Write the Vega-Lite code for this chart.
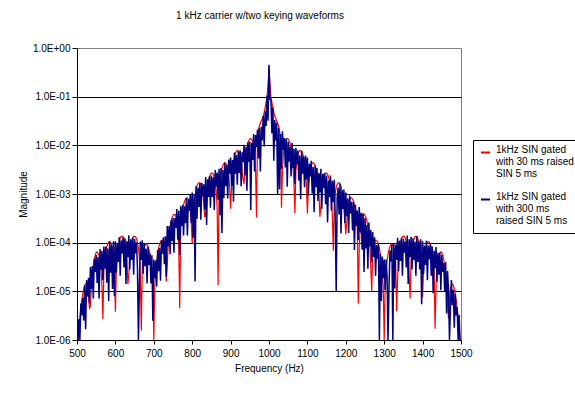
{
"$schema": "https://vega.github.io/schema/vega-lite/v6.json",
"width": 384, "height": 292,
"autosize": {"type": "none"},
"padding": {"left": 77, "top": 48, "right": 114, "bottom": 53},
"background": "white",
"title": {"text": "1 kHz carrier w/two keying waveforms", "font": "Liberation Sans", "fontSize": 10, "fontWeight": "normal", "color": "black", "anchor": "middle", "offset": 22, "dx": -9},
"config": {
 "view": {"stroke": "#808080", "strokeWidth": 1},
 "axis": {"labelFont": "Liberation Sans", "labelFontSize": 10, "labelColor": "black", "titleFont": "Liberation Sans", "titleFontSize": 10, "titleFontWeight": "normal", "titleColor": "black", "domainColor": "black", "tickColor": "black", "domainWidth": 1, "tickWidth": 1, "labelOverlap": false, "labelFlush": false},
 "legend": {"orient": "none", "legendX": 396, "legendY": 92, "direction": "vertical", "strokeColor": "black", "strokeWidth": 1, "fillColor": "white", "padding": 7, "symbolType": "stroke", "symbolStrokeWidth": 2, "symbolSize": 81, "labelFont": "Liberation Sans", "labelFontSize": 10, "labelColor": "black", "labelOffset": 5, "rowPadding": 12, "labelBaseline": "alphabetic", "labelLimit": 0}
},
"data": {"values": [
{"f":500,"r":1e-6,"b":1e-6},{"f":502.5,"r":1e-6,"b":1e-6},{"f":505,"r":1.6e-6,"b":2.7e-6},{"f":507.5,"r":2.9e-6,"b":1e-6},{"f":510,"r":4.6e-6,"b":5.6e-6},{"f":512.5,"r":6.6e-6,"b":3.2e-6},{"f":515,"r":8.9e-6,"b":7.4e-6},{"f":517.5,"r":1.12e-5,"b":2.5e-6},{"f":520,"r":1.35e-5,"b":1.32e-5},{"f":522.5,"r":1.41e-5,"b":1.66e-6},
{"f":525,"r":1.35e-5,"b":1.7e-5},{"f":527.5,"r":1.15e-5,"b":7.8e-6},{"f":530,"r":7.8e-6,"b":1.9e-5},{"f":532.5,"r":4.5e-6,"b":5.6e-6},{"f":535,"r":4.9e-6,"b":3.2e-5},{"f":537.5,"r":1.35e-5,"b":1.12e-5},{"f":540,"r":2.3e-5,"b":3.3e-5},{"f":542.5,"r":3.4e-5,"b":7.1e-6},{"f":545,"r":4.5e-5,"b":4.7e-5},{"f":547.5,"r":5.5e-5,"b":2.5e-5},
{"f":550,"r":6.3e-5,"b":5.6e-5},{"f":552.5,"r":6.5e-5,"b":1.48e-5},{"f":555,"r":6.0e-5,"b":5.1e-5},{"f":557.5,"r":5.4e-5,"b":7.1e-6},{"f":560,"r":4.4e-5,"b":7.4e-5},{"f":562.5,"r":2.95e-5,"b":2.75e-5},{"f":565,"r":1.26e-5,"b":6.8e-5},{"f":567.5,"r":2.7e-6,"b":1.7e-5},{"f":570,"r":2.75e-5,"b":8.3e-5},{"f":572.5,"r":4.8e-5,"b":2.9e-5},
{"f":575,"r":6.6e-5,"b":8.3e-5},{"f":577.5,"r":8.1e-5,"b":1.5e-5},{"f":580,"r":9.5e-5,"b":7.6e-5},{"f":582.5,"r":1.02e-4,"b":6.3e-6},{"f":585,"r":1.05e-4,"b":1.05e-4},{"f":587.5,"r":1.0e-4,"b":2.4e-5},{"f":590,"r":8.9e-5,"b":9.1e-5},{"f":592.5,"r":7.2e-5,"b":1.12e-5},{"f":595,"r":5.2e-5,"b":1.07e-4},{"f":597.5,"r":2.75e-5,"b":7.9e-6},
{"f":600,"r":3.8e-6,"b":1.07e-4},{"f":602.5,"r":2.9e-5,"b":2.45e-5},{"f":605,"r":5.8e-5,"b":9.5e-5},{"f":607.5,"r":8.1e-5,"b":4.0e-5},{"f":610,"r":1.05e-4,"b":1.29e-4},{"f":612.5,"r":1.23e-4,"b":2.1e-5},{"f":615,"r":1.35e-4,"b":1.12e-4},{"f":617.5,"r":1.35e-4,"b":6.0e-5},{"f":620,"r":1.32e-4,"b":1.29e-4},{"f":622.5,"r":1.17e-4,"b":3.1e-5},
{"f":625,"r":9.8e-5,"b":1.23e-4},{"f":627.5,"r":7.4e-5,"b":1.41e-5},{"f":630,"r":4.4e-5,"b":1.07e-4},{"f":632.5,"r":1.4e-5,"b":5.0e-5},{"f":635,"r":2.2e-5,"b":1.41e-4},{"f":637.5,"r":5.4e-5,"b":2.8e-5},{"f":640,"r":8.3e-5,"b":1.17e-4},{"f":642.5,"r":1.05e-4,"b":4.4e-5},{"f":645,"r":1.23e-4,"b":1.29e-4},{"f":647.5,"r":1.35e-4,"b":2.2e-5},
{"f":650,"r":1.35e-4,"b":1.2e-4},{"f":652.5,"r":1.32e-4,"b":6.0e-5},{"f":655,"r":1.2e-4,"b":1.02e-4},{"f":657.5,"r":1.0e-4,"b":2.95e-5},{"f":660,"r":7.8e-5,"b":1e-6},{"f":662.5,"r":4.9e-5,"b":1.29e-5},{"f":665,"r":1.95e-5,"b":1.05e-4},{"f":667.5,"r":1.55e-6,"b":4.4e-5},{"f":670,"r":3.7e-5,"b":1.12e-4},{"f":672.5,"r":6.0e-5,"b":2.3e-5},
{"f":675,"r":7.8e-5,"b":9.8e-5},{"f":677.5,"r":8.9e-5,"b":3.3e-5},{"f":680,"r":9.5e-5,"b":7.6e-5},{"f":682.5,"r":9.1e-5,"b":1.45e-5},{"f":685,"r":8.3e-5,"b":8.3e-5},{"f":687.5,"r":7.2e-5,"b":3.5e-5},{"f":690,"r":5.8e-5,"b":5.9e-5},{"f":692.5,"r":4.2e-5,"b":1.45e-5},{"f":695,"r":2.7e-5,"b":5.5e-5},{"f":697.5,"r":1.26e-5,"b":2.5e-6},
{"f":700,"r":1e-6,"b":4.5e-5},{"f":702.5,"r":1.23e-5,"b":1.86e-5},{"f":705,"r":2.6e-5,"b":4.3e-5},{"f":707.5,"r":4.1e-5,"b":1.26e-5},{"f":710,"r":5.8e-5,"b":7.1e-5},{"f":712.5,"r":7.6e-5,"b":2.6e-5},{"f":715,"r":9.3e-5,"b":7.8e-5},{"f":717.5,"r":1.05e-4,"b":1.66e-5},{"f":720,"r":1.12e-4,"b":1.1e-4},{"f":722.5,"r":1.12e-4,"b":5.9e-5},
{"f":725,"r":1.02e-4,"b":1.29e-4},{"f":727.5,"r":8.5e-5,"b":3.6e-5},{"f":730,"r":5.5e-5,"b":1.35e-4},{"f":732.5,"r":1.6e-5,"b":2.0e-5},{"f":735,"r":3.4e-5,"b":2.2e-4},{"f":737.5,"r":9.1e-5,"b":8.5e-5},{"f":740,"r":1.55e-4,"b":2.2e-4},{"f":742.5,"r":2.2e-4,"b":5.8e-5},{"f":745,"r":2.75e-4,"b":2.9e-4},{"f":747.5,"r":3.3e-4,"b":1.07e-4},
{"f":750,"r":3.6e-4,"b":3.2e-4},{"f":752.5,"r":3.8e-4,"b":6.2e-5},{"f":755,"r":3.8e-4,"b":3.2e-4},{"f":757.5,"r":3.5e-4,"b":2.0e-4},{"f":760,"r":2.9e-4,"b":4.9e-4},{"f":762.5,"r":1.95e-4,"b":1.15e-4},{"f":765,"r":8.3e-5,"b":4.5e-4},{"f":767.5,"r":4.5e-6,"b":5.6e-5},{"f":770,"r":1.86e-4,"b":5.6e-4},{"f":772.5,"r":3.3e-4,"b":2.2e-4},
{"f":775,"r":4.8e-4,"b":6.0e-4},{"f":777.5,"r":6.0e-4,"b":1.41e-4},{"f":780,"r":7.1e-4,"b":5.6e-4},{"f":782.5,"r":7.9e-4,"b":2.5e-4},{"f":785,"r":8.3e-4,"b":8.3e-4},{"f":787.5,"r":8.3e-4,"b":1.41e-4},{"f":790,"r":7.6e-4,"b":7.8e-4},{"f":792.5,"r":6.5e-4,"b":4.5e-4},{"f":795,"r":4.9e-4,"b":1.0e-3},{"f":797.5,"r":2.6e-4,"b":2.5e-4},
{"f":800,"r":9.5e-5,"b":1.07e-3},{"f":802.5,"r":3.0e-4,"b":1.26e-4},{"f":805,"r":6.0e-4,"b":1.0e-3},{"f":807.5,"r":8.9e-4,"b":1.6e-5},{"f":810,"r":1.17e-3,"b":1.45e-3},{"f":812.5,"r":1.45e-3,"b":3.1e-4},{"f":815,"r":1.62e-3,"b":1.35e-3},{"f":817.5,"r":1.7e-3,"b":5.4e-4},{"f":820,"r":1.7e-3,"b":1.66e-3},{"f":822.5,"r":1.58e-3,"b":2.95e-4},
{"f":825,"r":1.35e-3,"b":1.7e-3},{"f":827.5,"r":1.05e-3,"b":8.9e-4},{"f":830,"r":6.5e-4,"b":1.58e-3},{"f":832.5,"r":3.4e-4,"b":4.8e-4},{"f":835,"r":3.5e-4,"b":2.24e-3},{"f":837.5,"r":8.7e-4,"b":2.3e-4},{"f":840,"r":1.41e-3,"b":2.0e-3},{"f":842.5,"r":1.86e-3,"b":8.7e-4},{"f":845,"r":2.24e-3,"b":2.3e-3},{"f":847.5,"r":2.57e-3,"b":5.2e-4},
{"f":850,"r":2.7e-3,"b":2.4e-3},{"f":852.5,"r":2.7e-3,"b":8.7e-4},{"f":855,"r":2.57e-3,"b":2.2e-3},{"f":857.5,"r":2.24e-3,"b":4.7e-4},{"f":860,"r":1.8e-3,"b":3.1e-3},{"f":862.5,"r":1.2e-3,"b":1.41e-3},{"f":865,"r":5.1e-4,"b":2.75e-3},{"f":867.5,"r":1.35e-5,"b":7.6e-4},{"f":870,"r":1.1e-3,"b":3.3e-3},{"f":872.5,"r":1.9e-3,"b":3.6e-4},
{"f":875,"r":2.7e-3,"b":3.4e-3},{"f":877.5,"r":3.3e-3,"b":1.58e-4},{"f":880,"r":3.9e-3,"b":3.1e-3},{"f":882.5,"r":4.2e-3,"b":8.3e-4},{"f":885,"r":4.4e-3,"b":4.4e-3},{"f":887.5,"r":4.3e-3,"b":1.45e-3},{"f":890,"r":3.9e-3,"b":4.0e-3},{"f":892.5,"r":3.3e-3,"b":8.1e-4},{"f":895,"r":2.5e-3,"b":5.1e-3},{"f":897.5,"r":1.38e-3,"b":2.6e-3},
{"f":900,"r":5.0e-4,"b":5.6e-3},{"f":902.5,"r":1.5e-3,"b":1.45e-3},{"f":905,"r":3.0e-3,"b":5.0e-3},{"f":907.5,"r":4.5e-3,"b":6.9e-4},{"f":910,"r":5.8e-3,"b":7.1e-3},{"f":912.5,"r":6.8e-3,"b":2.6e-3},{"f":915,"r":7.6e-3,"b":6.3e-3},{"f":917.5,"r":7.8e-3,"b":1.55e-3},{"f":920,"r":7.8e-3,"b":7.6e-3},{"f":922.5,"r":7.2e-3,"b":2.7e-3},
{"f":925,"r":6.2e-3,"b":7.8e-3},{"f":927.5,"r":4.8e-3,"b":1.45e-3},{"f":930,"r":3.0e-3,"b":7.2e-3},{"f":932.5,"r":2.0e-3,"b":4.5e-3},{"f":935,"r":1.6e-3,"b":1.02e-2},{"f":937.5,"r":4.1e-3,"b":2.4e-3},{"f":940,"r":6.6e-3,"b":9.3e-3},{"f":942.5,"r":8.9e-3,"b":1.17e-3},{"f":945,"r":1.1e-2,"b":1.15e-2},{"f":947.5,"r":1.26e-2,"b":4.6e-3},
{"f":950,"r":1.35e-2,"b":1.2e-2},{"f":952.5,"r":1.38e-2,"b":4.7e-4},{"f":955,"r":1.32e-2,"b":1.12e-2},{"f":957.5,"r":1.2e-2,"b":5.0e-3},{"f":960,"r":1.0e-2,"b":1.7e-2},{"f":962.5,"r":6.9e-3,"b":2.9e-3},{"f":965,"r":3.0e-3,"b":1.62e-2},{"f":967.5,"r":3.3e-4,"b":9.3e-3},{"f":970,"r":1.26e-2,"b":2.1e-2},{"f":972.5,"r":2.0e-2,"b":5.4e-3},
{"f":975,"r":2.5e-2,"b":2.3e-2},{"f":977.5,"r":2.8e-2,"b":2.9e-3},{"f":980,"r":3.2e-2,"b":2.4e-2},{"f":982.5,"r":3.5e-2,"b":1.26e-2},{"f":985,"r":4.0e-2,"b":4.0e-2},{"f":987.5,"r":4.8e-2,"b":9.5e-3},{"f":990,"r":6.0e-2,"b":5.0e-2},{"f":992.5,"r":7.6e-2,"b":2.5e-2},{"f":995,"r":0.1,"b":0.105},{"f":997.5,"r":0.178,"b":3.2e-2},
{"f":1000,"r":0.4,"b":0.45},
{"f":1002.5,"r":0.178,"b":8.9e-2},{"f":1005,"r":0.1,"b":8.5e-2},{"f":1007.5,"r":7.6e-2,"b":1.78e-2},{"f":1010,"r":6.0e-2,"b":6.0e-2},{"f":1012.5,"r":4.8e-2,"b":4.8e-3},{"f":1015,"r":4.0e-2,"b":3.3e-2},{"f":1017.5,"r":3.5e-2,"b":1.26e-2},{"f":1020,"r":3.2e-2,"b":2.95e-2},{"f":1022.5,"r":2.8e-2,"b":1.0e-3},{"f":1025,"r":2.5e-2,"b":2.3e-2},
{"f":1027.5,"r":2.0e-2,"b":1.26e-3},{"f":1030,"r":1.26e-2,"b":1.7e-2},{"f":1032.5,"r":5.2e-4,"b":3.3e-3},{"f":1035,"r":3.0e-3,"b":1.95e-2},{"f":1037.5,"r":6.9e-3,"b":8.1e-3},{"f":1040,"r":1.0e-2,"b":1.41e-2},{"f":1042.5,"r":1.2e-2,"b":3.5e-3},{"f":1045,"r":1.32e-2,"b":1.38e-2},{"f":1047.5,"r":1.38e-2,"b":1.41e-3},{"f":1050,"r":1.35e-2,"b":1.2e-2},
{"f":1052.5,"r":1.26e-2,"b":4.6e-3},{"f":1055,"r":1.1e-2,"b":9.3e-3},{"f":1057.5,"r":8.9e-3,"b":2.3e-3},{"f":1060,"r":6.6e-3,"b":1.12e-2},{"f":1062.5,"r":4.1e-3,"b":3.4e-3},{"f":1065,"r":1.6e-3,"b":8.5e-3},{"f":1067.5,"r":4.0e-4,"b":1.58e-3},{"f":1070,"r":3.0e-3,"b":8.9e-3},{"f":1072.5,"r":4.8e-3,"b":4.1e-3},{"f":1075,"r":6.2e-3,"b":7.8e-3},
{"f":1077.5,"r":7.2e-3,"b":1.9e-3},{"f":1080,"r":7.8e-3,"b":6.2e-3},{"f":1082.5,"r":7.8e-3,"b":7.8e-4},{"f":1085,"r":7.6e-3,"b":7.6e-3},{"f":1087.5,"r":6.8e-3,"b":2.6e-3},{"f":1090,"r":5.8e-3,"b":5.9e-3},{"f":1092.5,"r":4.5e-3,"b":1.38e-3},{"f":1095,"r":3.0e-3,"b":6.2e-3},{"f":1097.5,"r":1.5e-3,"b":2.0e-3},{"f":1100,"r":4.0e-4,"b":5.6e-3},
{"f":1102.5,"r":1.38e-3,"b":9.3e-4},{"f":1105,"r":2.5e-3,"b":4.2e-3},{"f":1107.5,"r":3.3e-3,"b":2.3e-3},{"f":1110,"r":3.9e-3,"b":4.8e-3},{"f":1112.5,"r":4.3e-3,"b":1.02e-3},{"f":1115,"r":4.4e-3,"b":3.6e-3},{"f":1117.5,"r":4.2e-3,"b":4.2e-4},{"f":1120,"r":3.9e-3,"b":3.8e-3},{"f":1122.5,"r":3.3e-3,"b":1.38e-3},{"f":1125,"r":2.7e-3,"b":3.4e-3},
{"f":1127.5,"r":1.9e-3,"b":7.2e-4},{"f":1130,"r":1.1e-3,"b":2.7e-3},{"f":1132.5,"r":3.4e-4,"b":1.07e-3},{"f":1135,"r":5.1e-4,"b":3.3e-3},{"f":1137.5,"r":1.2e-3,"b":5.0e-4},{"f":1140,"r":1.8e-3,"b":2.6e-3},{"f":1142.5,"r":2.24e-3,"b":1.32e-3},{"f":1145,"r":2.57e-3,"b":2.7e-3},{"f":1147.5,"r":2.7e-3,"b":6.2e-4},{"f":1150,"r":2.7e-3,"b":2.4e-3},
{"f":1152.5,"r":2.57e-3,"b":2.6e-4},{"f":1155,"r":2.24e-3,"b":1.9e-3},{"f":1157.5,"r":1.86e-3,"b":8.7e-4},{"f":1160,"r":1.41e-3,"b":2.4e-3},{"f":1162.5,"r":8.7e-4,"b":4.6e-4},{"f":1165,"r":3.5e-4,"b":1.86e-3},{"f":1167.5,"r":6.8e-5,"b":6.8e-4},{"f":1170,"r":6.5e-4,"b":1.95e-3},{"f":1172.5,"r":1.05e-3,"b":3.2e-4},{"f":1175,"r":1.35e-3,"b":1.0e-5},
{"f":1177.5,"r":1.58e-3,"b":8.3e-4},{"f":1180,"r":1.7e-3,"b":1.35e-3},{"f":1182.5,"r":1.7e-3,"b":3.8e-4},{"f":1185,"r":1.62e-3,"b":1.62e-3},{"f":1187.5,"r":1.45e-3,"b":1.55e-4},{"f":1190,"r":1.17e-3,"b":1.2e-3},{"f":1192.5,"r":8.9e-4,"b":4.9e-4},{"f":1195,"r":6.0e-4,"b":1.23e-3},{"f":1197.5,"r":3.0e-4,"b":2.5e-4},{"f":1200,"r":1.5e-4,"b":1.07e-3},
{"f":1202.5,"r":2.6e-4,"b":3.5e-4},{"f":1205,"r":4.9e-4,"b":8.1e-4},{"f":1207.5,"r":6.5e-4,"b":1.58e-4},{"f":1210,"r":7.6e-4,"b":9.3e-4},{"f":1212.5,"r":8.3e-4,"b":4.0e-4},{"f":1215,"r":8.3e-4,"b":6.9e-4},{"f":1217.5,"r":7.9e-4,"b":1.78e-4},{"f":1220,"r":7.1e-4,"b":6.9e-4},{"f":1222.5,"r":6.0e-4,"b":7.1e-5},{"f":1225,"r":4.8e-4,"b":6.0e-4},
{"f":1227.5,"r":3.3e-4,"b":2.2e-4},{"f":1230,"r":1.86e-4,"b":4.6e-4},{"f":1232.5,"r":5.6e-6,"b":1.12e-4},{"f":1235,"r":8.3e-5,"b":5.4e-4},{"f":1237.5,"r":1.95e-4,"b":1.62e-4},{"f":1240,"r":2.9e-4,"b":4.1e-4},{"f":1242.5,"r":3.5e-4,"b":7.2e-5},{"f":1245,"r":3.8e-4,"b":4.0e-4},{"f":1247.5,"r":3.8e-4,"b":2.5e-5},{"f":1250,"r":3.6e-4,"b":3.2e-4},
{"f":1252.5,"r":3.3e-4,"b":7.6e-5},{"f":1255,"r":2.75e-4,"b":2.3e-4},{"f":1257.5,"r":2.2e-4,"b":2.9e-5},{"f":1260,"r":1.55e-4,"b":2.6e-4},{"f":1262.5,"r":9.1e-5,"b":8.5e-5},{"f":1265,"r":3.4e-5,"b":1.82e-4},{"f":1267.5,"r":1.0e-5,"b":4.0e-5},{"f":1270,"r":5.5e-5,"b":1.66e-4},{"f":1272.5,"r":8.5e-5,"b":5.1e-5},{"f":1275,"r":1.02e-4,"b":1.29e-4},
{"f":1277.5,"r":1.12e-4,"b":2.1e-5},{"f":1280,"r":1.12e-4,"b":8.9e-5},{"f":1282.5,"r":1.05e-4,"b":4.7e-5},{"f":1285,"r":9.3e-5,"b":9.3e-5},{"f":1287.5,"r":7.6e-5,"b":1e-6},{"f":1290,"r":5.8e-5,"b":5.9e-5},{"f":1292.5,"r":4.1e-5,"b":6.3e-6},{"f":1295,"r":2.6e-5,"b":5.2e-5},{"f":1297.5,"r":1.23e-5,"b":1.86e-5},{"f":1300,"r":1e-6,"b":4.5e-5},
{"f":1302.5,"r":1.26e-5,"b":1.07e-5},{"f":1305,"r":2.7e-5,"b":4.5e-5},{"f":1307.5,"r":4.2e-5,"b":2.0e-5},{"f":1310,"r":5.8e-5,"b":1e-6},{"f":1312.5,"r":7.2e-5,"b":1.23e-5},{"f":1315,"r":8.3e-5,"b":6.9e-5},{"f":1317.5,"r":9.1e-5,"b":4.1e-5},{"f":1320,"r":9.5e-5,"b":9.3e-5},{"f":1322.5,"r":8.9e-5,"b":1e-6},{"f":1325,"r":7.8e-5,"b":9.8e-5},
{"f":1327.5,"r":6.0e-5,"b":1.15e-5},{"f":1330,"r":3.7e-5,"b":9.1e-5},{"f":1332.5,"r":3.9e-6,"b":4.4e-5},{"f":1335,"r":1.95e-5,"b":1.26e-4},{"f":1337.5,"r":4.9e-5,"b":2.6e-5},{"f":1340,"r":7.8e-5,"b":1.1e-4},{"f":1342.5,"r":1.0e-4,"b":4.2e-5},{"f":1345,"r":1.2e-4,"b":1.26e-4},{"f":1347.5,"r":1.32e-4,"b":2.1e-5},{"f":1350,"r":1.35e-4,"b":1.2e-4},
{"f":1352.5,"r":1.35e-4,"b":6.2e-5},{"f":1355,"r":1.23e-4,"b":1.05e-4},{"f":1357.5,"r":1.05e-4,"b":3.1e-5},{"f":1360,"r":8.3e-5,"b":1.41e-4},{"f":1362.5,"r":5.4e-5,"b":1.41e-5},{"f":1365,"r":2.2e-5,"b":1.17e-4},{"f":1367.5,"r":7.1e-6,"b":5.0e-5},{"f":1370,"r":4.4e-5,"b":1.32e-4},{"f":1372.5,"r":7.4e-5,"b":2.8e-5},{"f":1375,"r":9.8e-5,"b":1.23e-4},
{"f":1377.5,"r":1.17e-4,"b":4.4e-5},{"f":1380,"r":1.32e-4,"b":1.05e-4},{"f":1382.5,"r":1.35e-4,"b":2.1e-5},{"f":1385,"r":1.35e-4,"b":1.35e-4},{"f":1387.5,"r":1.23e-4,"b":4.0e-5},{"f":1390,"r":1.05e-4,"b":1.07e-4},{"f":1392.5,"r":8.1e-5,"b":2.8e-5},{"f":1395,"r":5.8e-5,"b":1.17e-4},{"f":1397.5,"r":2.9e-5,"b":5.4e-6},{"f":1400,"r":7.6e-6,"b":1.07e-4},
{"f":1402.5,"r":2.75e-5,"b":2.3e-5},{"f":1405,"r":5.2e-5,"b":8.7e-5},{"f":1407.5,"r":7.2e-5,"b":3.5e-5},{"f":1410,"r":8.9e-5,"b":1.1e-4},{"f":1412.5,"r":1.0e-4,"b":1.7e-5},{"f":1415,"r":1.05e-4,"b":8.7e-5},{"f":1417.5,"r":1.02e-4,"b":4.6e-5},{"f":1420,"r":9.5e-5,"b":9.3e-5},{"f":1422.5,"r":8.1e-5,"b":2.1e-5},{"f":1425,"r":6.6e-5,"b":8.3e-5},
{"f":1427.5,"r":4.8e-5,"b":9.1e-6},{"f":1430,"r":2.75e-5,"b":6.8e-5},{"f":1432.5,"r":1.7e-6,"b":3.0e-5},{"f":1435,"r":1.26e-5,"b":8.1e-5},{"f":1437.5,"r":2.95e-5,"b":1.55e-5},{"f":1440,"r":4.4e-5,"b":6.2e-5},{"f":1442.5,"r":5.4e-5,"b":2.2e-5},{"f":1445,"r":6.0e-5,"b":6.3e-5},{"f":1447.5,"r":6.5e-5,"b":1.05e-5},{"f":1450,"r":6.3e-5,"b":5.6e-5},
{"f":1452.5,"r":5.5e-5,"b":2.5e-5},{"f":1455,"r":4.5e-5,"b":3.8e-5},{"f":1457.5,"r":3.4e-5,"b":1.0e-5},{"f":1460,"r":2.3e-5,"b":4.0e-5},{"f":1462.5,"r":1.35e-5,"b":3.5e-6},{"f":1465,"r":4.9e-6,"b":2.6e-5},{"f":1467.5,"r":2.8e-6,"b":1.0e-5},{"f":1470,"r":7.8e-6,"b":1e-6},{"f":1472.5,"r":1.15e-5,"b":4.4e-6},{"f":1475,"r":1.35e-5,"b":1.7e-5},
{"f":1477.5,"r":1.41e-5,"b":5.2e-6},{"f":1480,"r":1.35e-5,"b":1.07e-5},{"f":1482.5,"r":1.12e-5,"b":1.78e-6},{"f":1485,"r":8.9e-6,"b":8.9e-6},{"f":1487.5,"r":6.6e-6,"b":3.2e-6},{"f":1490,"r":4.6e-6,"b":4.7e-6},{"f":1492.5,"r":2.9e-6,"b":1e-6},{"f":1495,"r":1.6e-6,"b":3.3e-6},{"f":1497.5,"r":1e-6,"b":1e-6},{"f":1500,"r":1e-6,"b":1e-6}
]},
"encoding": {
 "x": {"field": "f", "type": "quantitative", "scale": {"domain": [500, 1500], "nice": false, "zero": false},
       "axis": {"values": [500,600,700,800,900,1000,1100,1200,1300,1400,1500], "format": "d", "title": "Frequency (Hz)", "grid": false, "tickSize": 4, "labelPadding": 4, "titlePadding": 5, "labelOverlap": false, "labelFlush": false, "labelSeparation": 0}}
},
"layer": [
 {"mark": {"type": "line", "strokeWidth": 1.2, "clip": true},
  "encoding": {
   "y": {"field": "r", "type": "quantitative", "title": "Magnitude",
         "scale": {"type": "log", "domain": [1e-6, 1], "nice": false},
         "axis": {"values": [1e-6,1e-5,1e-4,1e-3,1e-2,1e-1,1], "labelExpr": "datum.value >= 0.5 ? '1.0E+00' : '1.0E-0' + format(-log(datum.value)/LN10, '.0f')", "grid": true, "gridColor": {"condition": {"test": "datum.value >= 0.5", "value": "#808080"}, "value": "black"}, "gridWidth": 1, "tickSize": 5, "labelPadding": 2, "titlePadding": 4}},
   "color": {"datum": "1kHz SIN gated with 30 ms raised SIN 5 ms",
             "scale": {"domain": ["1kHz SIN gated with 30 ms raised SIN 5 ms", "1kHz SIN gated with 300 ms raised SIN 5 ms"], "range": ["#FF0000", "#000080"]},
             "legend": {"title": null, "labelExpr": "datum.label == '1kHz SIN gated with 30 ms raised SIN 5 ms' ? ['1kHz SIN gated', 'with 30 ms raised', 'SIN 5 ms'] : ['1kHz SIN gated', 'with 300 ms', 'raised SIN 5 ms']"}}
  }},
 {"mark": {"type": "line", "strokeWidth": 1.5, "clip": true},
  "encoding": {
   "y": {"field": "b", "type": "quantitative", "title": "Magnitude"},
   "color": {"datum": "1kHz SIN gated with 300 ms raised SIN 5 ms"}
  }}
]
}
